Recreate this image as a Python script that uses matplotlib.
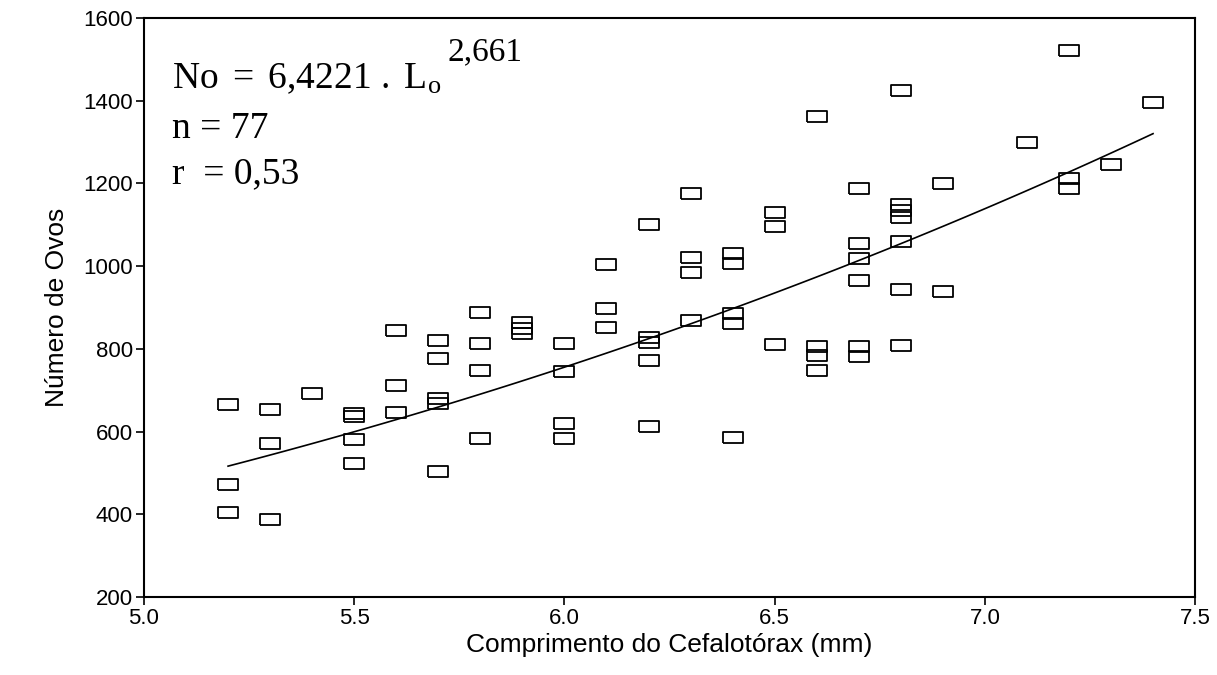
import matplotlib
matplotlib.use("Agg")
import matplotlib.pyplot as plt
import numpy as np

plt.rcParams['font.family'] = ['Liberation Sans', 'DejaVu Sans']
plt.rcParams['mathtext.fontset'] = 'custom'
plt.rcParams['mathtext.rm'] = 'Liberation Serif'
plt.rcParams['mathtext.it'] = 'Liberation Serif:italic'

# comprimento do cefalotorax (mm) and numero de ovos
comp = [5.2, 5.2, 5.2,
        5.3, 5.3, 5.3,
        5.4,
        5.5, 5.5, 5.5, 5.5,
        5.6, 5.6, 5.6,
        5.7, 5.7, 5.7, 5.7, 5.7,
        5.8, 5.8, 5.8, 5.8,
        5.9, 5.9, 5.9,
        6.0, 6.0, 6.0, 6.0,
        6.1, 6.1, 6.1,
        6.2, 6.2, 6.2, 6.2, 6.2,
        6.3, 6.3, 6.3, 6.3,
        6.4, 6.4, 6.4, 6.4, 6.4,
        6.5, 6.5, 6.5,
        6.6, 6.6, 6.6, 6.6,
        6.7, 6.7, 6.7, 6.7, 6.7, 6.7,
        6.8, 6.8, 6.8, 6.8, 6.8, 6.8, 6.8,
        6.9, 6.9,
        7.1,
        7.2, 7.2, 7.2,
        7.3,
        7.4]
ovos = [666, 473, 405,
        654, 572, 388,
        693,
        645, 638, 581, 524,
        845, 712, 647,
        821, 777, 680, 668, 504,
        888, 813, 748, 584,
        865, 850, 838,
        813, 746, 620, 584,
        1004, 898, 852,
        1103, 828, 816, 772, 613,
        1176, 1021, 987, 869,
        1031, 1007, 886, 862, 587,
        1132, 1096, 811,
        1364, 806, 784, 748,
        1188, 1057, 1019, 966, 806, 782,
        1427, 1150, 1135, 1120, 1062, 944, 809,
        1202, 940,
        1299,
        1523, 1214, 1190,
        1246,
        1398]

# fitted model No = a . Lo^b
a = 6.4221
b = 2.661
fit_x = np.linspace(5.2, 7.4, 100)
fit_y = a * fit_x ** b

fig = plt.figure(figsize=(12.17, 6.75), dpi=100)
ax = fig.add_axes([0.1183, 0.1156, 0.8637, 0.8577])

box = [(-1, -0.55), (1, -0.55), (1, 0.55), (-1, 0.55), (-1, -0.55)]
ax.plot(comp, ovos, linestyle='none', marker=box, markersize=14.4,
        markerfacecolor='none', markeredgecolor='black', markeredgewidth=1.3)
ax.plot(fit_x, fit_y, 'k-', lw=1.2)

ax.set_xlim(5.0, 7.5)
ax.set_ylim(200, 1600)
ax.set_xticks([5.0, 5.5, 6.0, 6.5, 7.0, 7.5])
ax.set_xticklabels(['5.0', '5.5', '6.0', '6.5', '7.0', '7.5'])
ax.set_yticks(range(200, 1601, 200))
ax.tick_params(direction='out', length=6, width=1.2, labelsize=16, pad=2)
for s in ax.spines.values():
    s.set_linewidth(1.5)

ax.set_xlabel('Comprimento do Cefalotórax (mm)', fontsize=19, labelpad=3)
ax.set_ylabel('Número de Ovos', fontsize=19, labelpad=10)

ax.text(0.027, 0.879, r'$\mathrm{No\ =\ 6{,}4221\ .\ L}_{\mathrm{o}}$',
        transform=ax.transAxes, fontsize=27, va='baseline')
ax.text(0.289, 0.927, '2,661', family='Liberation Serif',
        transform=ax.transAxes, fontsize=24, va='baseline')
ax.text(0.027, 0.793, 'n = 77', family='Liberation Serif',
        transform=ax.transAxes, fontsize=27, va='baseline')
ax.text(0.027, 0.715, 'r  = 0,53', family='Liberation Serif',
        transform=ax.transAxes, fontsize=27, va='baseline')

fig.savefig('out.png', dpi=100)
